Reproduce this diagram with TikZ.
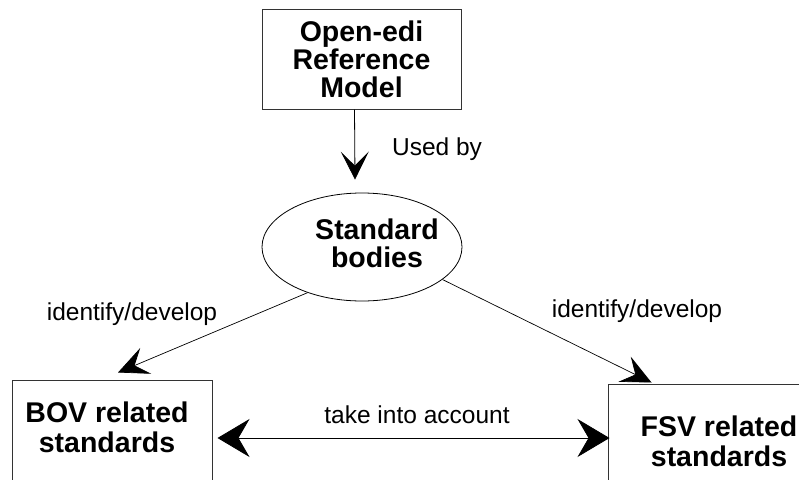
\documentclass[tikz,border=0pt]{standalone}
\usepackage{fontspec}
\setmainfont{Liberation Sans}
\usetikzlibrary{
    arrows.meta,
    shapes.geometric
}
\tikzset{
    frame/.style={draw=black!80, line width=1pt, inner sep=0pt},
    bigtext/.style={font=\fontsize{28.5}{28}\selectfont\bfseries, align=center, inner sep=0pt},
    smalltext/.style={font=\fontsize{24.5}{28}\selectfont, inner sep=0pt}
}

\begin{document}
\begin{tikzpicture}[x=1pt,y=-1pt]
\useasboundingbox (0,0) rectangle (799,479);
\clip (0,0) rectangle (799,479);
%\draw [help lines,step=50] (0,0) grid (799,479);
\node [frame, bigtext, minimum width=199pt, minimum height=100pt] (orm) at (361.5,59) {Open-edi\\Reference\\Model};
\node [ellipse, draw, line width=0.8pt, minimum width=200pt, minimum height=108pt, inner sep=0pt] (sb) at (362,247) {};
\node [bigtext] (sbtxt) at (377,243) {Standard\\bodies};
\node [frame, minimum width=200pt, minimum height=116pt] (bov) at (112,438) {};
\node [bigtext, font=\fontsize{28.5}{30}\selectfont\bfseries] (bovtxt) at (107,427) {BOV related\\standards};
\node [frame, minimum width=222pt, minimum height=108pt] (fsv) at (719,438) {};
\node [bigtext, font=\fontsize{28.5}{30}\selectfont\bfseries] (fsvtxt) at (719,441) {FSV related\\standards};
\node [smalltext, anchor=base] (used) at (437,155) {Used by};
\node [smalltext, anchor=base] (idl) at (132,320) {identify/develop};
\node [smalltext, anchor=base] (idr) at (637,317) {identify/develop};
\node [smalltext, anchor=base] (take) at (417,423) {take into account};
\draw [-{Stealth[length=28pt,width=28pt,inset=14pt]}, line width=0.8pt] ([xshift=-7pt]orm.south) -- ([xshift=-7pt,yshift=13pt]sb.north);
\draw [-{Stealth[length=30pt,width=28pt,inset=12pt]}, line width=0.7pt] (sb.220) -- ([xshift=6pt,yshift=7pt]bov.north);
\draw [-{Stealth[length=30pt,width=28pt,inset=12pt]}, line width=0.7pt] (sb.338) -- ([xshift=44pt,yshift=1pt]fsv.north west);
\draw [{Stealth[length=32pt,width=38pt,inset=11pt]}-{Stealth[length=32pt,width=38pt,inset=11pt]}, line width=0.8pt, shorten <=5pt, shorten >=-2pt] (bov.east) -- (fsv.west);
\end{tikzpicture}
\end{document}
